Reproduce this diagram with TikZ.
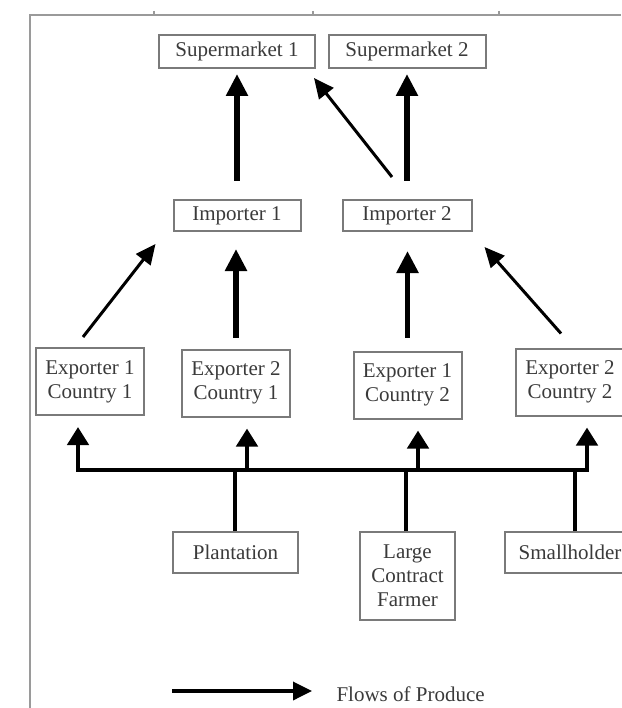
\documentclass[tikz,border=0pt]{standalone}
\usepackage{fontspec}
\setmainfont{Liberation Serif}
\usetikzlibrary{shapes,arrows.meta}
\definecolor{boxgray}{HTML}{7A7A7A}
\definecolor{txtgray}{HTML}{3A3A3A}
\definecolor{framegray}{HTML}{9A9A9A}
\tikzstyle{block} = [rectangle, draw=boxgray, line width=2pt, text=txtgray, align=center,
inner sep=0pt, font=\fontsize{21}{24}\selectfont]
\tikzstyle{Eblock} = [block, minimum width=108pt, minimum height=67pt]
\tikzstyle{fat} = [draw, line width=5.5pt, -{Triangle[width=21pt,length=22pt]}]
\tikzstyle{thin} = [draw, line width=3pt, -{Triangle[width=18pt,length=20pt]}]
\tikzstyle{busline} = [draw, line width=4.5pt]
\tikzstyle{frame} = [draw=framegray, line width=2.5pt]

\begin{document}
\begin{tikzpicture}[x=1pt,y=-1pt]

   \useasboundingbox (0,0) rectangle (621,708);

   % outer frame (cut off at the right and bottom)
   \draw[frame] (30,708) -- (30,15) -- (621,15);
   \foreach \t in {154,313,499} \draw[frame, line width=1.5pt] (\t,11) -- (\t,16);

   % supermarkets
   \node[block, minimum width=156pt, minimum height=33pt] (sup1) at (237,51.5) {Supermarket 1};
   \node[block, minimum width=157pt, minimum height=33pt] (sup2) at (407,51.5) {Supermarket 2};

   % importers
   \node[block, minimum width=127pt, minimum height=31pt] (imp1) at (237,215.5) {Importer 1};
   \node[block, minimum width=129pt, minimum height=31pt] (imp2) at (407,215.5) {Importer 2};

   % exporters
   \node[Eblock] (exp11) at (90,381.5) {Exporter 1\\Country 1};
   \node[Eblock] (exp21) at (236,383) {Exporter 2\\Country 1};
   \node[Eblock] (exp12) at (407.5,385) {Exporter 1\\Country 2};
   \node[Eblock] (exp22) at (570,382) {Exporter 2\\Country 2};

   % producers
   \node[block, minimum width=125pt, minimum height=41pt] (plant) at (235.5,552.5) {Plantation};
   \node[block, minimum width=95pt, minimum height=88pt] (farmer) at (407.5,576) {Large\\Contract\\Farmer};
   \node[block, minimum width=130pt, minimum height=41pt] (small) at (570,552.5) {Smallholder};

   % points on the bus
   \coordinate (b1) at (78,470);
   \coordinate (b2) at (247,470);
   \coordinate (b3) at (418,470);
   \coordinate (b4) at (587,470);
   \coordinate (p1) at (235,470);
   \coordinate (p2) at (406,470);
   \coordinate (p3) at (575,470);

   %% Lines

   % importers to supermarkets
   \path[fat] ([yshift=18pt]imp1.north) -- ([yshift=-5pt]sup1.south);
   \path[fat] ([yshift=18pt]imp2.north) -- ([yshift=-5pt]sup2.south);
   \path[thin] ([xshift=-15pt,yshift=22pt]imp2.north) -- ([xshift=-2pt,yshift=-9pt]sup1.south east);

   % exporters to importers
   \path[thin] ([xshift=-7pt,yshift=10pt]exp11.north) -- ([xshift=-17pt,yshift=-12pt]imp1.south west);
   \path[fat, shorten <=11pt, shorten >=17pt] (exp21.north) -- (exp21.north |- imp1.south);
   \path[fat, shorten <=13pt, shorten >=19pt] (exp12.north) -- (exp12.north |- imp2.south);
   \path[thin] ([xshift=-9pt,yshift=14pt]exp22.north) -- ([xshift=12pt,yshift=-15pt]imp2.south east);

   % producers to exporters
   \path[busline, {Triangle[width=21pt,length=18pt]}-{Triangle[width=21pt,length=18pt]},
      shorten <=11pt, shorten >=11pt]
      (b1 |- exp11.south) -- (b1) -- (b4) -- (b4 |- exp22.south);
   \path[busline, -{Triangle[width=21pt,length=18pt]}, shorten >=11pt] (b2) -- (b2 |- exp21.south);
   \path[busline, -{Triangle[width=21pt,length=18pt]}, shorten >=11pt] (b3) -- (b3 |- exp12.south);
   \path[busline] (p1 |- plant.north) -- (p1);
   \path[busline] (p2 |- farmer.north) -- (p2);
   \path[busline] (p3 |- small.north) -- (p3);

   % legend
   \coordinate (legA) at (172,691);
   \coordinate (legB) at (312,691);
   \node[anchor=west, text=txtgray, font=\fontsize{21}{24}\selectfont] (legText) at (333,694) {Flows of Produce};
   \path[draw, line width=3.5pt, -{Triangle[width=18pt,length=19pt]}] (legA) -- (legB);

\end{tikzpicture}
\end{document}
